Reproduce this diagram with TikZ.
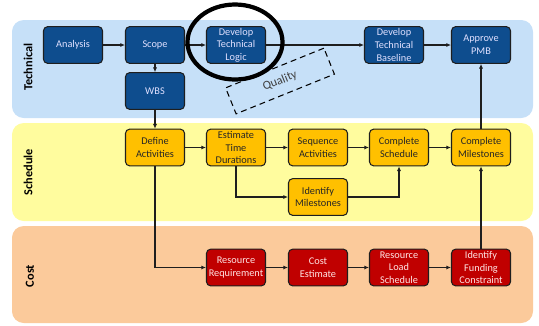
\documentclass[tikz,border=0pt]{standalone}
\usepackage{fontspec}
\setmainfont{Carlito}
\usetikzlibrary{arrows.meta,shapes.geometric}

\definecolor{techband}{HTML}{C6E0F8}
\definecolor{schedband}{HTML}{FFFC9E}
\definecolor{costband}{HTML}{FBCA9B}
\definecolor{techfill}{HTML}{0E4D8E}
\definecolor{schedfill}{HTML}{FFC000}
\definecolor{costfill}{HTML}{C00000}
\definecolor{boxline}{HTML}{1E1E1E}

\begin{document}
\begin{tikzpicture}[
    x=0.03cm, y=-0.03cm,
    band/.style={rounded corners=10pt},
    bandlabel/.style={rotate=90, font=\fontsize{10.5}{12}\selectfont\bfseries},
    task/.style={rectangle, rounded corners=3.5pt, draw=boxline, line width=0.9pt, minimum width=1.77cm, minimum height=1.1cm, inner sep=1pt, align=center, font=\fontsize{8.8}{10.8}\selectfont},
    techtask/.style={task, fill=techfill, text=white!88!blue},
    schedtask/.style={task, fill=schedfill, text=black!85},
    costtask/.style={task, fill=costfill, text=white!90!red},
    flow/.style={-{Latex[length=4pt,width=3.6pt]}, line width=0.9pt, draw=boxline}
]
    \useasboundingbox (0,0) rectangle (539,325);

    % Bands
    \fill[band, techband] (12,20) rectangle (533,118);
    \fill[band, schedband] (12,123) rectangle (533,221);
    \fill[band, costband] (12,226) rectangle (533,323);
    \node[bandlabel] (techlabel) at (28,67) {Technical};
    \node[bandlabel] (schedlabel) at (28,172) {Schedule};
    \node[bandlabel] (costlabel) at (30,276) {Cost};

    % Technical
    \node[techtask] (analysis) at (73,45) {Analysis};
    \node[techtask] (scope) at (155,45) {Scope};
    \node[techtask] (logic) at (236,45) {Develop\\Technical\\Logic};
    \node[techtask] (baseline) at (394,45) {Develop\\Technical\\Baseline};
    \node[techtask] (pmb) at (481,45) {Approve\\PMB};
    \node[techtask] (wbs) at (155,91) {WBS};

    % Schedule
    \node[schedtask] (define) at (155,147.5) {Define\\Activities};
    \node[schedtask] (estimate) at (236,147.5) {Estimate\\Time\\Durations};
    \node[schedtask] (sequence) at (318,147.5) {Sequence\\Activities};
    \node[schedtask] (schedule) at (399,147.5) {Complete\\Schedule};
    \node[schedtask] (milestones) at (481,147.5) {Complete\\Milestones};
    \node[schedtask] (identify) at (318,197) {Identify\\Milestones};

    % Cost
    \node[costtask] (requirement) at (236,267.5) {Resource\\Requirement};
    \node[costtask] (estimatecost) at (318,267.5) {Cost\\Estimate};
    \node[costtask] (loadsched) at (399,267.5) {Resource\\Load\\Schedule};
    \node[costtask] (funding) at (481,267.5) {Identify\\Funding\\Constraint};

    % Flows
    \draw[flow] (analysis) -- (scope);
    \draw[flow] (scope) -- (logic);
    \draw[flow] (logic) -- (baseline);
    \draw[flow] (baseline) -- (pmb);
    \draw[flow] (scope) -- (wbs);
    \draw[flow] (wbs) -- (define);
    \draw[flow] (define) -- (estimate);
    \draw[flow] (estimate) -- (sequence);
    \draw[flow] (estimate.south) |- (identify);
    \draw[flow] (sequence) -- (schedule);
    \draw[flow] (identify) -| (schedule);
    \draw[flow] (schedule) -- (milestones);
    \draw[flow] (milestones) -- (pmb);
    \draw[flow] (define.south) |- (requirement);
    \draw[flow] (requirement) -- (estimatecost);
    \draw[flow] (estimatecost) -- (loadsched);
    \draw[flow] (loadsched) -- (funding);
    \draw[flow] (funding) -- (milestones);

    % Quality note and highlight
    \node[draw, dashed, dash pattern=on 5pt off 3.5pt, line width=0.9pt, rotate=22, minimum width=3.18cm, minimum height=0.84cm, text=black!75, font=\fontsize{10.5}{12}\selectfont] (quality) at (280,81) {Quality};
    \node[draw, ellipse, line width=3.6pt, minimum width=2.85cm, minimum height=2.25cm, inner sep=0pt] (focus) at (235,42) {};

\end{tikzpicture}
\end{document}
